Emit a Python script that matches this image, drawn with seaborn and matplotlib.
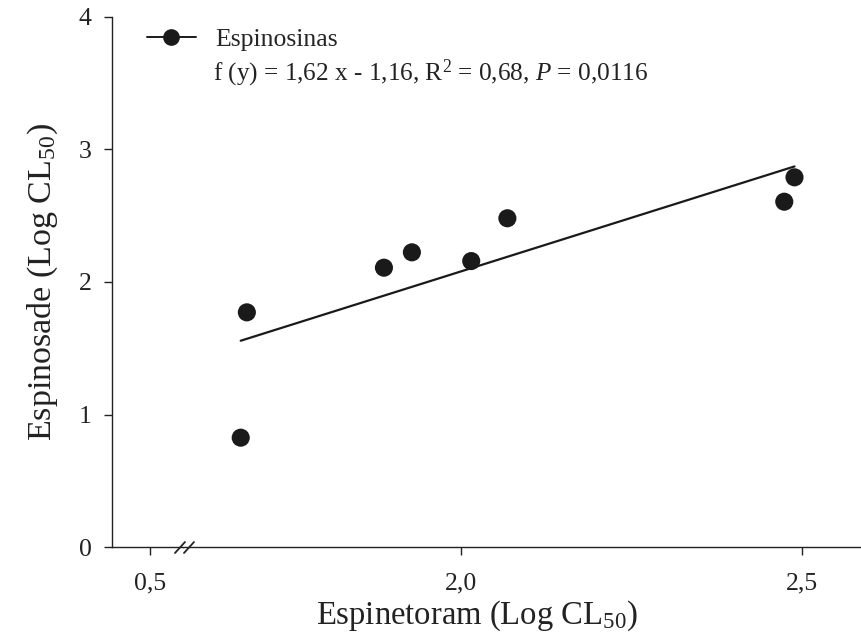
import numpy as np
import pandas as pd
import matplotlib
matplotlib.use("Agg")
import matplotlib.pyplot as plt
from matplotlib.lines import Line2D
import seaborn as sns

# data
espinetoram = [1.677, 1.686, 1.887, 1.928, 2.015, 2.068, 2.474, 2.489]
espinosade = [0.825, 1.771, 2.108, 2.224, 2.158, 2.481, 2.606, 2.790]
slope = 1.62
intercept = -1.16
x_ticks_left = [0.5]
x_ticks_right = [2.0, 2.5]
y_ticks = [0, 1, 2, 3, 4]

df = pd.DataFrame({"x": espinetoram, "y": espinosade})
x_fit = np.array([min(espinetoram), max(espinetoram)])
fit_df = pd.DataFrame({"x": x_fit, "y": slope * x_fit + intercept})

sns.set_style("ticks")
plt.rcParams["font.family"] = ["Liberation Serif", "DejaVu Serif"]
plt.rcParams["mathtext.fontset"] = "custom"
plt.rcParams["mathtext.rm"] = "Liberation Serif"
plt.rcParams["mathtext.it"] = "Liberation Serif:italic"
plt.rcParams["axes.edgecolor"] = "#222222"
plt.rcParams["axes.linewidth"] = 1.0

W, H = 862, 644
fig = plt.figure(figsize=(W / 100, H / 100), dpi=100)

def fig_rect(x0, x1, ytop, ybot):
    return [x0 / W, 1 - ybot / H, (x1 - x0) / W, (ybot - ytop) / H]

ax_l = fig.add_axes(fig_rect(112, 183, 17, 547))
ax_r = fig.add_axes(fig_rect(183, 862, 17, 547))

px_per_unit = 682.0
ax_l.set_xlim(0.5 - 38 / px_per_unit, 0.5 + 33 / px_per_unit)
ax_r.set_xlim(2.0 - 278 / px_per_unit, 2.0 + 401 / px_per_unit)
for ax in (ax_l, ax_r):
    ax.set_ylim(0, 4)
    ax.spines["top"].set_visible(False)
    ax.spines["right"].set_visible(False)
    ax.tick_params(direction="out", width=1.0, colors="#222222",
                   labelsize=18.5, labelcolor="#222222")
    ax.tick_params(axis="x", length=6, pad=12)
    ax.tick_params(axis="y", length=5.5, pad=9)

ax_l.set_xticks(x_ticks_left)
ax_l.set_xticklabels(["0,5"])
ax_l.set_yticks(y_ticks)
ax_l.set_yticklabels([str(v) for v in y_ticks])
ax_l.set_ylabel("Espinosade (Log CL$_{50}$)", fontsize=24.5, labelpad=14, color="#222222")

ax_r.spines["left"].set_visible(False)
ax_r.set_yticks([])
ax_r.set_xticks(x_ticks_right)
ax_r.set_xticklabels([f"{v:.1f}".replace(".", ",") for v in x_ticks_right])

sns.lineplot(data=fit_df, x="x", y="y", ax=ax_r, color="#1a1a1a", linewidth=1.6)
sns.scatterplot(data=df, x="x", y="y", ax=ax_r, color="#1a1a1a", s=170,
                edgecolor="none", zorder=3)
ax_r.set_xlabel("")
ax_r.set_ylabel("")

fig.text(477 / W, 1 - 616 / H, "Espinetoram (Log CL$_{50}$)", fontsize=23.5,
         ha="center", va="center", color="#222222")

# axis break marks
for cx in (180, 189):
    fig.add_artist(Line2D([(cx - 5) / W, (cx + 5) / W],
                          [1 - 553 / H, 1 - 542 / H],
                          transform=fig.transFigure, color="#222222", lw=1.3))

# legend
handle = Line2D([], [], color="#1a1a1a", marker="o", markersize=11, lw=1.4)
fig.legend([handle], ["Espinosinas"], loc="upper left",
           bbox_to_anchor=(147 / W, 1 - 28 / H), bbox_transform=fig.transFigure,
           frameon=False, fontsize=18.5, handlelength=1.9, handletextpad=0.75,
           borderaxespad=0, borderpad=0)
fig.text(213 / W, 1 - 80 / H,
         "f (y) = 1,62 x - 1,16, R$^2$ = 0,68, $P$ = 0,0116",
         fontsize=18.2, ha="left", va="baseline", color="#222222")

fig.savefig("out.png", dpi=100)
